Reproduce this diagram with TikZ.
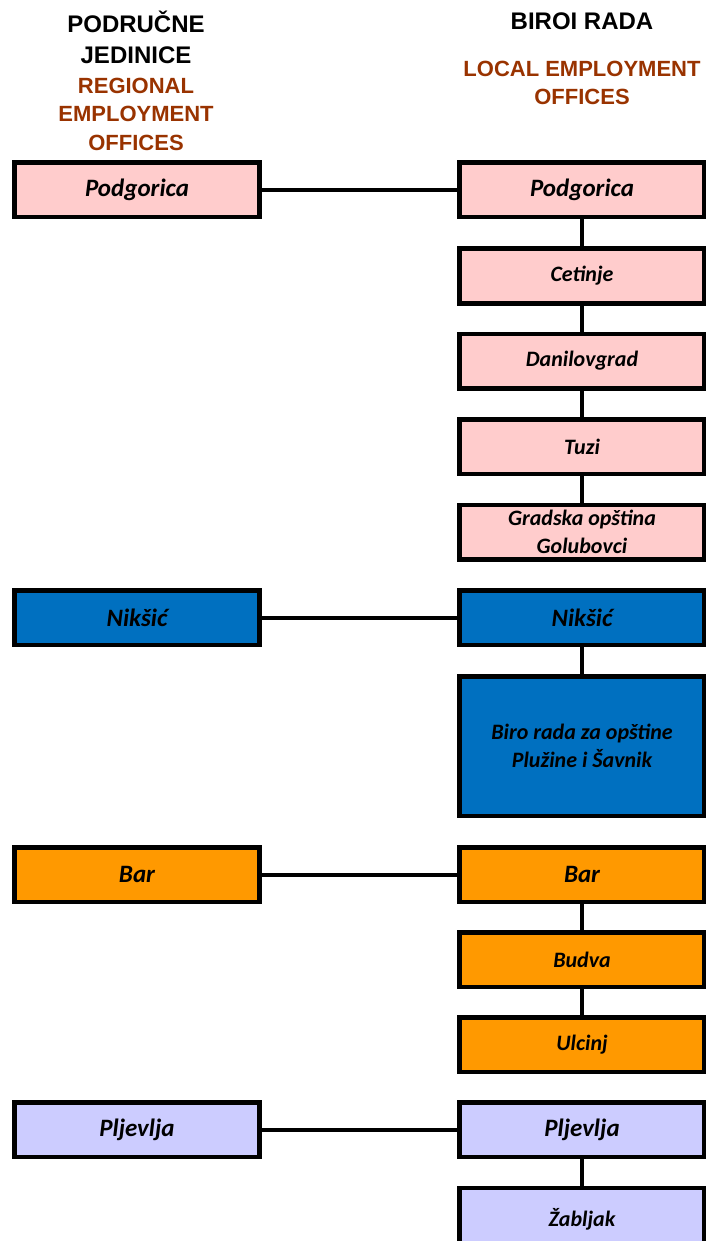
\documentclass[tikz,border=0pt]{standalone}
\usepackage{fontspec}
\setmainfont{Carlito}
\newfontfamily\headfont{Liberation Sans}
\definecolor{headbrown}{HTML}{993300}
\definecolor{boxpink}{HTML}{FFCCCC}
\definecolor{boxblue}{HTML}{0070C0}
\definecolor{boxorange}{HTML}{FF9900}
\definecolor{boxlilac}{HTML}{CCCCFF}
\tikzset{
    office/.style={draw=black,line width=4.5pt,shape=rectangle,text=black,align=center,inner sep=0pt,
        minimum width=245pt,minimum height=54.5pt,font=\bfseries\itshape\fontsize{25}{28}\selectfont},
    minor/.style={office,font=\bfseries\itshape\fontsize{22}{28.5}\selectfont},
    headblack/.style={anchor=base,text=black,font=\headfont\bfseries\fontsize{24}{30}\selectfont},
    headcolour/.style={anchor=base,text=headbrown,font=\headfont\bfseries\fontsize{22}{28}\selectfont},
    link/.style={line width=4pt},
}
\begin{document}
\begin{tikzpicture}[x=1pt,y=-1pt]
    \useasboundingbox (0,0) rectangle (706,1241);
    \node[headblack] (podrucne) at (136,33) {PODRUČNE};
    \node[headblack] (jedinice) at (136,64) {JEDINICE};
    \node[headcolour] (regional) at (136,94) {REGIONAL};
    \node[headcolour] (employment) at (136,122) {EMPLOYMENT};
    \node[headcolour] (offleft) at (136,151) {OFFICES};
    \node[headblack] (biroi) at (582,30) {BIROI RADA};
    \node[headcolour] (localemp) at (582,77) {LOCAL EMPLOYMENT};
    \node[headcolour] (offright) at (582,105) {OFFICES};

    \node[office,fill=boxpink] (podgoricaR) at (137,190) {Podgorica};
    \node[office,fill=boxpink] (podgorica) at (582,190) {Podgorica};
    \node[minor,fill=boxpink] (cetinje) at (582,276) {Cetinje};
    \node[minor,fill=boxpink] (danilovgrad) at (582,361) {Danilovgrad};
    \node[minor,fill=boxpink] (tuzi) at (582,446.5) {Tuzi};
    \node[minor,fill=boxpink] (golubovci) at (582,532) {Gradska opština\\Golubovci};

    \node[office,fill=boxblue] (niksicR) at (137,617.5) {Nikšić};
    \node[office,fill=boxblue] (niksic) at (582,617.5) {Nikšić};
    \node[minor,fill=boxblue,minimum height=139.5pt] (pluzine) at (582,746) {Biro rada za opštine\\Plužine i Šavnik};

    \node[office,fill=boxorange] (barR) at (137,874.5) {Bar};
    \node[office,fill=boxorange] (bar) at (582,874.5) {Bar};
    \node[minor,fill=boxorange] (budva) at (582,959.5) {Budva};
    \node[minor,fill=boxorange] (ulcinj) at (582,1044.5) {Ulcinj};

    \node[office,fill=boxlilac] (pljevljaR) at (137,1129.5) {Pljevlja};
    \node[office,fill=boxlilac] (pljevlja) at (582,1129.5) {Pljevlja};
    \node[minor,fill=boxlilac,minimum height=62pt] (zabljak) at (582,1219) {Žabljak};

    \draw[link] (podgoricaR) -- (podgorica);
    \draw[link] (podgorica) -- (cetinje);
    \draw[link] (cetinje) -- (danilovgrad);
    \draw[link] (danilovgrad) -- (tuzi);
    \draw[link] (tuzi) -- (golubovci);
    \draw[link] (niksicR) -- (niksic);
    \draw[link] (niksic) -- (pluzine);
    \draw[link] (barR) -- (bar);
    \draw[link] (bar) -- (budva);
    \draw[link] (budva) -- (ulcinj);
    \draw[link] (pljevljaR) -- (pljevlja);
    \draw[link] (pljevlja) -- (zabljak);
\end{tikzpicture}
\end{document}
